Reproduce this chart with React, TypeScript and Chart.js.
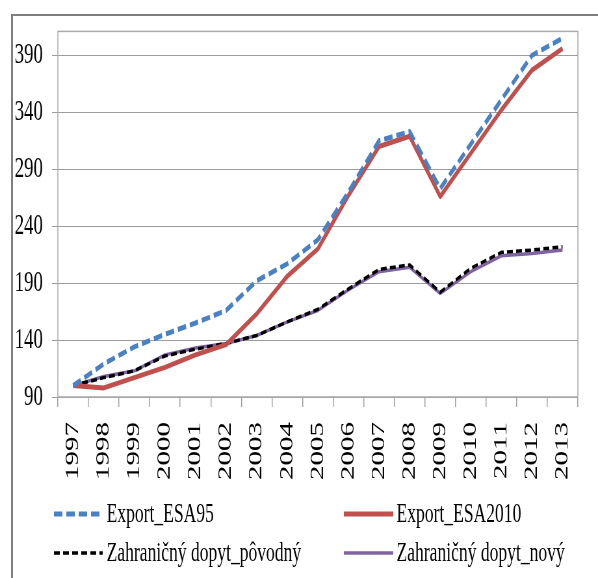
import React, { useEffect, useRef } from "react";
import { Chart, registerables } from "chart.js";

Chart.register(...registerables);

const years = ["1997", "1998", "1999", "2000", "2001", "2002", "2003", "2004", "2005", "2006", "2007", "2008", "2009", "2010", "2011", "2012", "2013"];
const exportESA95 = [100, 119, 134, 145, 155, 166, 192, 207, 228, 270, 315, 323, 273, 312, 351, 390, 405];
const exportESA2010 = [100, 98, 107, 116, 127, 136, 163, 196, 220, 267, 310, 319, 266, 304, 342, 377, 396];
const dopytPovodny = [100, 107, 113, 126, 132, 137, 144, 156, 167, 185, 202, 206, 182, 203, 217, 219, 222];
const dopytNovy = [100, 108, 113, 127, 133, 137, 144, 156, 166, 184, 200, 204, 181, 200, 214, 216, 219];
const yTicks = [90, 140, 190, 240, 290, 340, 390];
const seriesLabels = ["Export_ESA95", "Export_ESA2010", "Zahraničný dopyt_pôvodný", "Zahraničný dopyt_nový"];

const SX = 0.65; // horizontal squeeze of the original picture
const W = Math.round(598 / SX);
const H = 578;
const FONT = '"Liberation Serif", "Times New Roman", serif';

const plotBox = {
  id: "plotBox",
  beforeDatasetsDraw(chart: any) {
    const { ctx, chartArea: a } = chart;
    ctx.save();
    ctx.strokeStyle = "#a9a9a9";
    ctx.lineWidth = 1.5;
    ctx.setLineDash([]);
    ctx.strokeRect(a.left, a.top, a.right - a.left, a.bottom - a.top);
    ctx.restore();
  },
};

const gridLegend = {
  id: "gridLegend",
  afterDraw(chart: any) {
    const { ctx } = chart;
    const colStart = [83, 529];
    const colEnd = [158, 605];
    const colText = [164, 610];
    const rowY = [514, 553];
    ctx.save();
    chart.data.datasets.forEach((ds: any, i: number) => {
      const c = i % 2;
      const r = Math.floor(i / 2);
      const y = rowY[r];
      ctx.beginPath();
      ctx.strokeStyle = ds.borderColor;
      ctx.lineWidth = ds.borderWidth;
      ctx.setLineDash(ds.borderDash || []);
      ctx.lineCap = "butt";
      ctx.moveTo(colStart[c], y);
      ctx.lineTo(colEnd[c], y);
      ctx.stroke();
      ctx.setLineDash([]);
      ctx.fillStyle = "#000";
      ctx.font = `27px ${FONT}`;
      ctx.textBaseline = "middle";
      ctx.textAlign = "left";
      ctx.fillText(ds.label, colText[c], y + 1);
    });
    ctx.restore();
  },
};

export default function App() {
  const ref = useRef<HTMLCanvasElement | null>(null);

  useEffect(() => {
    if (!ref.current) return;
    const chart = new Chart(ref.current, {
      type: "line",
      data: {
        labels: years,
        datasets: [
          {
            label: seriesLabels[0],
            data: exportESA95,
            borderColor: "#4a80c4",
            borderWidth: 5,
            borderDash: [13, 6],
          },
          {
            label: seriesLabels[1],
            data: exportESA2010,
            borderColor: "#c0504d",
            borderWidth: 5,
          },
          {
            label: seriesLabels[2],
            data: dopytPovodny,
            borderColor: "#000000",
            borderWidth: 3.5,
            borderDash: [9, 5],
          },
          {
            label: seriesLabels[3],
            data: dopytNovy,
            borderColor: "#8064a2",
            borderWidth: 3.5,
          },
        ],
      },
      options: {
        animation: false,
        responsive: false,
        maintainAspectRatio: false,
        devicePixelRatio: 1,
        elements: {
          point: { radius: 0, hoverRadius: 0 },
          line: { tension: 0, borderJoinStyle: "round", borderCapStyle: "butt", fill: false },
        },
        layout: { padding: { top: 30, right: 31, left: 0, bottom: 0 } },
        plugins: {
          legend: { display: false },
          tooltip: { enabled: false },
        },
        scales: {
          x: {
            type: "category",
            offset: true,
            border: { display: false },
            grid: {
              offset: true,
              drawOnChartArea: false,
              drawTicks: true,
              tickLength: 10,
              color: "#a0a0a0",
              lineWidth: 1.5,
            },
            ticks: {
              autoSkip: false,
              maxRotation: 90,
              minRotation: 90,
              padding: 15,
              color: "#000",
              font: { family: FONT, size: 29 },
            },
            afterFit(scale: any) {
              scale.height = H - 397;
            },
          },
          y: {
            min: 90,
            max: 411,
            border: { display: false },
            grid: {
              color: "#9c9c9c",
              lineWidth: 1,
              borderDash: [2, 2],
              tickLength: 9,
            },
            ticks: {
              stepSize: 50,
              padding: 14,
              color: "#000",
              font: { family: FONT, size: 29 },
            },
            afterBuildTicks(scale: any) {
              scale.ticks = yTicks.map((v) => ({ value: v }));
            },
            afterFit(scale: any) {
              scale.width = 89;
            },
          },
        },
      },
      plugins: [plotBox, gridLegend],
    });
    return () => chart.destroy();
  }, []);

  return (
    <div
      style={{
        position: "fixed",
        left: 0,
        top: 0,
        width: 598,
        height: 578,
        overflow: "hidden",
        background: "#fff",
      }}
    >
      <div
        style={{
          position: "absolute",
          left: 11,
          top: 14,
          width: 700,
          height: 700,
          borderTop: "2px solid #7f7f7f",
          borderLeft: "2px solid #7f7f7f",
          boxSizing: "border-box",
        }}
      />
      <div
        style={{
          position: "absolute",
          left: 0,
          top: 0,
          width: W,
          height: H,
          transform: `scaleX(${SX})`,
          transformOrigin: "0 0",
        }}
      >
        <canvas ref={ref} width={W} height={H} style={{ width: W, height: H, display: "block" }} />
      </div>
    </div>
  );
}
